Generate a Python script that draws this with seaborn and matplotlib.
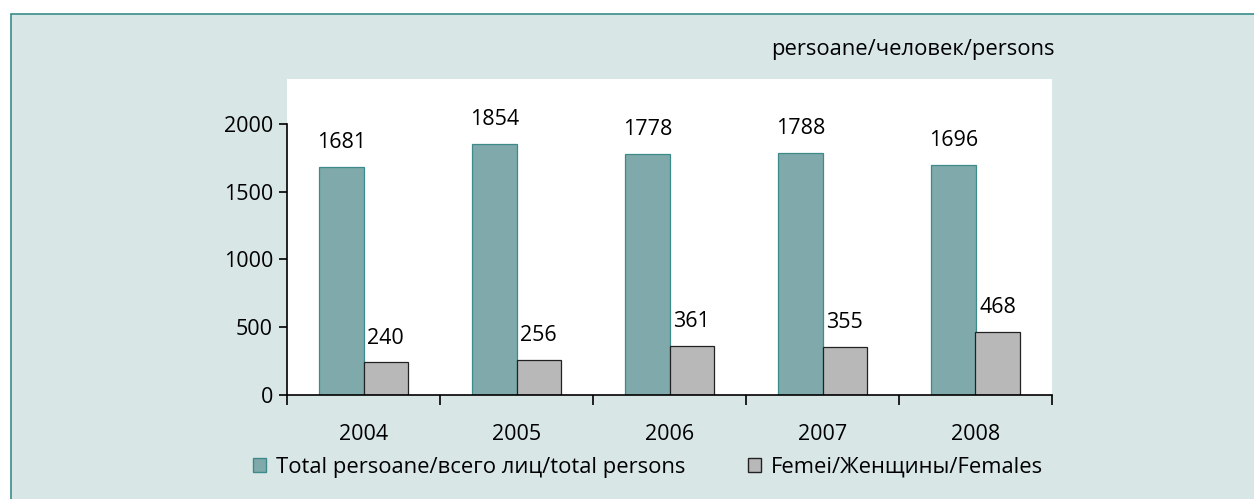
import pandas as pd
import matplotlib.pyplot as plt
import matplotlib.patches as mpatches
import seaborn as sns

years = ['2004', '2005', '2006', '2007', '2008']
total = [1681, 1854, 1778, 1788, 1696]
females = [240, 256, 361, 355, 468]
series_names = ['Total persoane/всего лиц/total persons', 'Femei/Женщины/Females']

bg = '#d9e6e6'
teal = '#7fa9ab'
gray = '#b8b8b8'

df = pd.DataFrame({
    'year': years * 2,
    'value': total + females,
    'series': [series_names[0]] * 5 + [series_names[1]] * 5,
})

sns.set_style('white')
plt.rcParams['font.family'] = ['Open Sans', 'DejaVu Sans']
plt.rcParams['text.color'] = 'black'
plt.rcParams['xtick.color'] = 'black'
plt.rcParams['ytick.color'] = 'black'
fs = 15.8
fs_num = 15.5

fig = plt.figure(figsize=(12.54, 4.99), dpi=100)
fig.patch.set_facecolor('white')
# light panel with teal frame behind the chart
fig.patches.append(mpatches.Rectangle((11 / 1254, -0.01), 1.01, (499 - 14) / 499 + 0.01,
                                      transform=fig.transFigure, facecolor=bg,
                                      edgecolor='#3a8c8c', linewidth=1.2, zorder=-5))

ax = fig.add_axes([287 / 1254, 104 / 499, 765 / 1254, 316 / 499])
sns.barplot(data=df, x='year', y='value', hue='series', palette=[teal, gray],
            width=0.58, ax=ax, legend=False, saturation=1)
for bar_c, ec in zip(ax.containers, ['#3d8a8a', '#222222']):
    for b in bar_c:
        b.set_edgecolor(ec)
        b.set_linewidth(0.9)
    ax.bar_label(bar_c, padding=10, fontsize=fs_num)

ax.set_ylim(0, 2330)
ax.set_xlim(-0.5, 4.5)
ax.set_yticks([0, 500, 1000, 1500, 2000])
ax.set_xlabel('')
ax.set_ylabel('')
ax.tick_params(axis='x', length=0, labelsize=fs_num, pad=21)
ax.tick_params(axis='y', length=6, width=1.2, labelsize=fs_num, left=True, direction='out', pad=4)
ax.set_xticks([-0.5, 0.5, 1.5, 2.5, 3.5, 4.5], minor=True)
ax.tick_params(axis='x', which='minor', length=7, width=1.2, bottom=True, direction='out')
for s in ['top', 'right']:
    ax.spines[s].set_visible(False)
for s in ['left', 'bottom']:
    ax.spines[s].set_color('black')
    ax.spines[s].set_linewidth(1.2)
ax.spines['left'].set_bounds(0, 2000)
ax.set_facecolor('white')

fig.text(1055 / 1254, 1 - 50 / 499, 'persoane/человек/persons', ha='right', va='center', fontsize=fs)

handles = [mpatches.Patch(facecolor=teal, edgecolor='#3d8a8a', label=series_names[0]),
           mpatches.Patch(facecolor=gray, edgecolor='#222222', label=series_names[1])]
fig.legend(handles=handles, loc='center', bbox_to_anchor=(648 / 1254, 32 / 499), ncol=2,
           frameon=False, fontsize=fs, handlelength=0.6, handleheight=0.6,
           handletextpad=0.45, columnspacing=2.85)

fig.savefig('out.png', dpi=100, facecolor=fig.get_facecolor())
